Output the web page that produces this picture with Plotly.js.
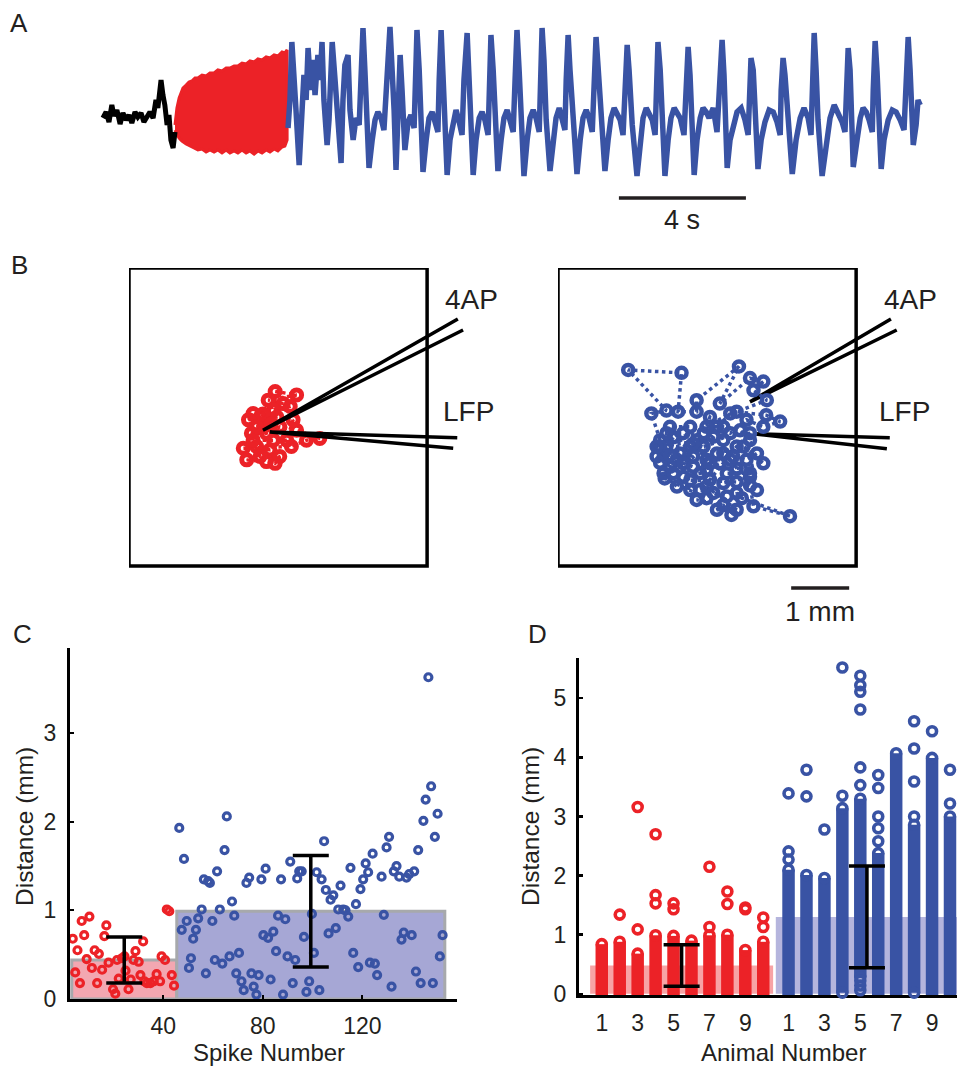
<!DOCTYPE html>
<html><head><meta charset="utf-8">
<script src="https://cdn.plot.ly/plotly-3.0.1.min.js"></script>
<style>html,body{margin:0;padding:0;background:#fff}#chart{width:957px;height:1068px}</style>
</head><body><div id="chart"></div>
<script>
// ---------------- DATA ----------------
// Panel A: LFP trace (time in s, amplitude in a.u.)
const blackT = [0.03,0.13,0.22,0.31,0.38,0.47,0.57,0.66,0.76,0.85,0.94,1.04,1.13,1.23,1.32,1.42,1.51,1.61,1.70,1.76,1.83,1.86,1.92,1.98,2.05,2.11,2.17,2.24,2.30];
const blackV = [2,8,-2,15,4,10,-4,7,0,5,-3,8,3,7,-2,4,8,2,20,12,35,40,25,15,-5,5,-20,-28,-12];
const redUpperT = [2.30,2.36,2.43,2.49,2.55,2.65,2.74,2.83,2.93,3.02,3.15,3.28,3.40,3.53,3.65,3.78,3.91,4.03,4.16,4.28,4.41,4.54,4.66,4.79,4.91,5.04,5.17,5.29,5.42,5.54,5.67,5.76,5.83];
const redUpperV = [-5,12,22,28,32,35,38,39,42,42,45,44,47,47,50,49,52,52,54,54,57,56,59,58,61,60,63,62,65,64,68,67,70];
const redLowerT = [2.30,2.36,2.43,2.52,2.65,2.77,2.90,3.02,3.15,3.28,3.40,3.53,3.65,3.78,3.91,4.03,4.16,4.28,4.41,4.54,4.66,4.79,4.91,5.04,5.17,5.29,5.42,5.54,5.67,5.76,5.83];
const redLowerV = [-10,-14,-18,-21,-24,-26,-28,-30,-29,-32,-30,-32,-30,-33,-30,-33,-31,-33,-30,-33,-31,-34,-31,-33,-30,-32,-29,-31,-27,-26,-20];
const blueT = [5.86,5.92,5.98,6.05,6.11,6.21,6.30,6.36,6.43,6.49,6.58,6.65,6.71,6.80,6.87,6.93,6.99,7.09,7.15,7.25,7.34,7.43,7.53,7.59,7.65,7.75,7.81,7.91,8.00,8.10,
 8.16,8.22,8.28,8.35,8.41,8.51,8.60,8.69,8.79,8.88,8.95,9.01,9.07,9.14,9.20,9.26,9.32,9.39,9.45,9.54,9.64,9.73,9.83,9.86,9.92,9.99,10.05,10.11,10.21,10.30,
 10.40,10.49,10.58,10.62,10.68,10.74,10.80,10.87,10.96,11.06,11.15,11.25,11.34,11.40,11.50,11.56,11.62,11.69,11.78,11.88,11.97,12.06,12.16,12.19,12.25,12.32,12.38,12.47,12.57,12.66,
 12.76,12.85,12.95,13.01,13.07,13.14,13.20,13.29,13.39,13.48,13.58,13.67,13.77,13.80,13.86,13.92,13.99,14.11,14.21,14.30,14.40,14.49,14.58,14.62,14.68,14.74,14.84,14.96,15.06,15.15,
 15.25,15.34,15.44,15.50,15.56,15.62,15.72,15.84,15.94,16.03,16.13,16.22,16.32,16.41,16.47,16.54,16.60,16.70,16.85,16.95,17.04,17.14,17.23,17.33,17.42,17.45,17.51,17.58,17.64,17.73,
 17.83,17.92,18.02,18.11,18.21,18.33,18.40,18.46,18.52,18.59,18.65,18.74,18.84,18.93,19.03,19.12,19.25,19.37,19.44,19.53,19.59,19.62,19.69,19.78,19.88,20.00,20.13,20.25,20.35,20.38,
 20.44,20.51,20.57,20.66,20.76,20.88,21.01,21.14,21.26,21.36,21.39,21.45,21.51,21.61,21.74,21.86,21.99,22.11,22.24,22.33,22.37,22.43,22.49,22.55,22.68,22.81,22.93,23.06,23.18,23.31,
 23.40,23.44,23.50,23.56,23.59,23.66,23.78,23.88,23.97,24.07,24.16,24.26,24.29,24.35,24.41,24.48,24.54,24.63,24.76,24.89,25.01,25.14,25.26,25.33,25.39,25.45,25.52,25.55,25.64,25.70,25.77];
const blueV = [-8,20,78,50,10,-45,0,45,20,72,30,60,25,65,40,78,20,-25,0,78,40,0,-43,20,55,65,10,-20,2,-5,
 40,92,50,0,-48,-20,0,8,2,-10,20,60,93,55,10,-50,0,65,30,-30,-2,5,-8,40,90,50,10,-52,-20,2,
 8,-5,-12,40,90,45,-10,-55,-20,0,10,-2,-15,40,87,42,-5,-55,-20,2,8,0,-15,40,85,50,0,-51,-20,2,
 10,0,-12,40,90,48,0,-56,-20,2,10,2,-12,40,92,60,0,-51,-15,2,12,2,-10,40,85,50,-5,-54,-20,2,
 10,2,-12,40,83,55,0,-51,-20,2,12,5,0,-15,35,75,50,-5,-56,-20,2,12,5,0,-15,35,78,50,0,-56,
 -20,2,12,8,2,-15,35,73,45,0,-55,-20,2,12,8,2,12,-12,40,80,45,0,-48,-20,-5,8,12,0,-15,30,
 62,50,0,-49,-20,-2,10,8,-2,-15,30,62,45,0,-54,-20,2,12,2,-15,40,87,50,0,-56,-20,2,15,8,-2,
 -12,30,72,50,10,-47,-20,2,12,8,0,-12,30,79,48,0,-49,-20,0,10,8,0,-10,40,83,50,0,-25,-5,20,15];
const scaleBarA = {t0: 16.28, len: 4, v: -78};

// Panel B: spike-source trajectories (mm)
const boxSize = 5.14;
const redTrajX = [2.52,2.89,2.40,2.66,2.14,2.06,2.26,2.49,2.78,2.11,2.37,2.60,2.89,3.29,3.06,2.80,1.97,2.20,2.43,2.03,2.37,2.52,2.60,2.26,2.14,2.49,2.72,2.83,2.32,2.55,2.31,2.45,2.20];
const redTrajY = [3.01,2.95,2.86,2.80,2.63,2.52,2.57,2.69,2.75,2.29,2.29,2.40,2.34,2.20,2.17,2.06,2.03,2.06,2.00,1.83,1.80,1.77,1.89,1.89,2.17,2.17,2.17,2.52,2.40,2.57,2.62,2.45,2.40];
const blueTrajX = [1.76,1.61,1.87,1.21,2.13,2.07,2.39,2.39,3.12,2.79,3.31,3.54,3.37,3.60,3.08,3.59,3.83,3.54,3.25,2.97,2.62,2.51,1.99,1.87,2.28,2.74,3.20,3.54,3.08,3.31,2.85,2.45,2.16,1.93,1.70,1.76,2.05,1.84,2.28,2.56,2.39,2.85,2.99,3.08,3.17,4.00,3.37,3.31,2.97,2.56,2.33,2.10,1.82,2.51,2.85,2.74,2.28,1.93,2.62,3.08,3.31,
  1.76,1.93,2.16,2.33,2.56,2.79,3.02,3.25,3.43,3.31,3.14,2.85,2.68,2.39,2.16,1.87,1.82,2.05,2.45,2.68,2.91,2.74,3.08,2.56,2.28,3.08,3.43,3.31,2.91,2.62,2.33,2.85,1.70,1.99,2.97,2.56];
const blueTrajY = [2.17,2.63,2.68,3.38,3.33,2.66,2.66,2.86,3.44,2.80,3.24,3.18,3.03,2.86,2.66,2.60,2.49,2.40,2.52,2.29,2.57,2.29,2.22,2.06,2.06,1.94,2.06,1.77,1.68,1.54,1.43,1.60,1.54,1.71,1.89,1.78,1.83,1.51,1.31,1.17,1.14,1.05,0.88,1.26,1.17,0.86,1.03,1.39,1.83,1.83,1.89,1.94,1.94,2.06,2.17,2.40,2.40,2.40,1.49,2.06,2.29,
  2.06,1.91,1.77,1.71,1.66,1.77,1.89,1.83,1.94,2.17,2.34,2.40,2.23,2.17,2.29,2.29,1.60,1.37,1.31,1.26,1.20,0.97,0.97,1.37,1.48,1.45,1.31,1.60,1.60,1.77,2.11,1.94,2.06,1.60,2.63,2.40];
const elecLeftX  = [5.67,2.31,5.76,null,5.66,2.43,5.59];
const elecLeftY  = [4.26,2.34,4.07,null,2.21,2.31,2.03];
const elecRightX = [5.74,3.31,5.84,null,5.72,3.36,5.67];
const elecRightY = [4.26,2.83,4.07,null,2.21,2.28,2.02];
const scaleBarB = {x0: 4.02, len: 1, y: -0.38};

// Panel C: distance vs spike number
const cRedSpike = [3.6,5.5,4.6,6.5,7.2,8.2,10.3,9.2,11.3,12.4,13.4,14.1,15.4,16.3,17.1,18.0,19.8,20.7,21.4,22.1,23.4,24.8,24.4,26.0,26.9,28.0,28.8,30.1,30.8,31.9,32.4,33.4,34.8,36.1,37.3,38.7,39.3,40.7,41.4,42.4,43.4,44.3];
const cRedDist  = [0.68,0.55,0.30,0.18,0.88,0.72,0.93,0.45,0.35,0.55,0.18,0.51,0.33,0.71,0.83,0.41,0.11,0.06,0.44,0.23,0.46,0.32,0.48,0.11,0.22,0.44,0.54,0.42,0.27,0.65,0.20,0.18,0.18,0.20,0.28,0.20,0.48,0.44,1.01,0.99,0.27,0.15];
const cBlueSpike = [46.4,47.4,48.3,49.4,50.3,51.1,52.0,53.1,54.0,55.4,56.3,57.1,58.0,58.7,59.7,60.7,61.6,62.7,63.7,64.6,65.5,66.6,67.6,68.5,69.3,70.4,71.4,72.3,73.4,74.5,75.4,76.3,77.4,78.3,79.4,80.2,81.1,82.1,83.1,84.2,85.3,86.1,87.3,88.1,89.0,89.9,91.0,92.0,93.0,93.8,94.6,95.6,96.5,97.5,98.6,99.7,100.5,101.6,102.7,103.6,104.6,105.3,106.4,107.2,108.3,109.3,110.3,111.2,112.3,113.2,114.3,115.2,116.3,117.4,118.3,119.2,120.3,121.3,122.3,123.0,124.1,125.0,125.9,127.7,128.6,129.7,130.7,131.7,132.6,133.7,134.8,135.7,136.6,137.7,138.8,139.8,140.8,141.5,142.4,143.4,144.5,145.4,146.5,147.6,148.3,149.1,150.2,151.1,152.2];
const cBlueDist  = [1.93,0.78,1.58,0.88,0.35,0.46,0.68,0.78,0.91,1.01,1.35,0.29,1.33,1.31,0.88,0.44,1.44,1.01,0.40,1.68,2.06,0.48,1.10,0.94,0.29,0.52,0.20,0.10,1.31,1.37,0.29,0.14,0.05,0.27,1.35,0.72,1.47,0.69,0.22,0.76,0.54,0.94,1.35,0.05,0.90,0.48,1.55,0.18,0.44,1.36,1.44,1.44,0.70,0.08,0.20,0.96,0.52,1.43,0.10,1.35,1.78,1.23,0.74,1.12,1.17,0.80,1.01,1.28,1.01,1.00,0.93,1.48,0.52,1.07,0.36,1.24,1.35,1.53,1.43,0.41,1.64,0.40,0.27,1.38,0.95,1.71,1.83,0.14,1.44,1.50,1.38,0.67,0.75,1.37,1.41,0.72,1.44,0.31,1.68,0.18,2.01,2.25,3.63,2.40,0.18,1.83,2.09,0.48,0.72];
const cBarCenter = [24.3, 99.25];
const cBarWidth  = [42.2, 107.7];
const cMean = [0.44, 0.99];
const cSD   = [0.26, 0.63];
const cTicksX = [40, 80, 120];
const cTicksY = [0, 1, 2, 3];

// Panel D: distance per animal
const redAnimalPos  = [1,2,3,4,5,6,7,8,9,10];
const blueAnimalPos = [11.41,12.41,13.41,14.41,15.41,16.41,17.41,18.41,19.41,20.41];
const redLo = [-0.04,-0.04,-0.06,-0.04,-0.04,-0.04,-0.04,-0.04,-0.03,-0.05];
const redHi = [0.84,0.88,0.68,0.99,0.98,0.90,0.99,1.00,0.74,0.88];
const redOut = [[],[1.34],[1.09,3.16],[1.53,1.67,2.70],[1.43,1.53],[],[1.13,2.15],[1.52,1.73],[1.43,1.46],[1.13,1.29]];
const blueLo = [-0.04,-0.07,-0.07,0.02,0.28,-0.05,-0.09,0.02,-0.04,-0.03];
const blueHi = [2.10,2.01,1.96,3.14,3.30,2.38,4.07,2.86,3.99,3.00];
const blueOut = [[2.27,2.41,3.39],[3.34,3.79],[2.78],[3.35,5.52],[0.06,0.14,0.22,3.53,3.83,4.81,5.11,5.22,5.38],[2.58,2.80,3.00,3.48,3.70],[],[3.00,3.59,4.15,4.61],[4.44],[3.22,3.79]];
const dBarCenter = [5.45, 15.78];
const dBarWidth  = [10.2, 10.16];
const dMean = [0.48, 1.30];
const dSD   = [0.35, 0.86];
const dTickVals = [1,3,5,7,9,11.41,13.41,15.41,17.41,19.41];
const dTickText = ['1','3','5','7','9','1','3','5','7','9'];
const dTicksY = [0,1,2,3,4,5];

// ---------------- STYLE ----------------
const RED = '#ec2227', BLUE = '#3953a4', TXT = '#231f20';
const FONT = 'Liberation Sans, Arial, Helvetica, sans-serif';
const PW = 957, PH = 1068;
const dxp = (a,b) => [a/PW, b/PW];
const dyp = (top,bottom) => [1-bottom/PH, 1-top/PH];

function columns(pos, lo, hi){const x=[],y=[];pos.forEach((p,i)=>{x.push(p,p,null);y.push(lo[i],hi[i],null);});return {x,y};}
function outliers(pos, out){const x=[],y=[];pos.forEach((p,i)=>out[i].forEach(v=>{x.push(p);y.push(v);}));return {x,y};}

const traces = [];
// A
traces.push({type:'scatter',mode:'lines',x:redUpperT.concat(redLowerT.slice().reverse()),y:redUpperV.concat(redLowerV.slice().reverse()),
  fill:'toself',fillcolor:RED,line:{color:RED,width:3},xaxis:'x',yaxis:'y'});
traces.push({type:'scatter',mode:'lines',x:blackT,y:blackV,line:{color:'#000',width:5},xaxis:'x',yaxis:'y'});
traces.push({type:'scatter',mode:'lines',x:blueT,y:blueV,line:{color:BLUE,width:5.5},xaxis:'x',yaxis:'y'});
traces.push({type:'scatter',mode:'lines',x:[scaleBarA.t0,scaleBarA.t0+scaleBarA.len],y:[scaleBarA.v,scaleBarA.v],line:{color:TXT,width:3.5},xaxis:'x',yaxis:'y'});

// B left
traces.push({type:'scatter',mode:'lines+markers',x:redTrajX,y:redTrajY,xaxis:'x2',yaxis:'y2',cliponaxis:false,
  line:{color:RED,width:3.5,dash:'dot'},marker:{symbol:'circle-open',size:10,color:RED,line:{width:5,color:RED}}});
traces.push({type:'scatter',mode:'lines',x:elecLeftX,y:elecLeftY,xaxis:'x2',yaxis:'y2',line:{color:'#000',width:3.5},cliponaxis:false});
// B right
traces.push({type:'scatter',mode:'lines',x:elecRightX,y:elecRightY,xaxis:'x3',yaxis:'y3',line:{color:'#000',width:3.5},cliponaxis:false});
traces.push({type:'scatter',mode:'lines+markers',x:blueTrajX,y:blueTrajY,xaxis:'x3',yaxis:'y3',cliponaxis:false,
  line:{color:BLUE,width:3.5,dash:'dot'},marker:{symbol:'circle-open',size:10,color:BLUE,line:{width:4.5,color:BLUE}}});
traces.push({type:'scatter',mode:'lines',x:[scaleBarB.x0,scaleBarB.x0+scaleBarB.len],y:[scaleBarB.y,scaleBarB.y],xaxis:'x3',yaxis:'y3',line:{color:TXT,width:3.5},cliponaxis:false});

// C
traces.push({type:'bar',x:cBarCenter,y:cMean,width:cBarWidth,xaxis:'x4',yaxis:'y4',
  marker:{color:['#f3a7b1','#a6a7d5'],line:{color:'#a7a9ac',width:3}}});
traces.push({type:'scatter',mode:'markers',x:cRedSpike,y:cRedDist,xaxis:'x4',yaxis:'y4',cliponaxis:false,
  marker:{symbol:'circle-open',size:7,color:RED,line:{width:3.2,color:RED}}});
traces.push({type:'scatter',mode:'markers',x:cBlueSpike,y:cBlueDist,xaxis:'x4',yaxis:'y4',cliponaxis:false,
  marker:{symbol:'circle-open',size:7,color:BLUE,line:{width:3.2,color:BLUE}}});
traces.push({type:'scatter',mode:'markers',x:cBarCenter,y:cMean,xaxis:'x4',yaxis:'y4',marker:{size:1,color:'rgba(0,0,0,0)'},
  error_y:{type:'data',array:cSD,color:'#000',thickness:3.5,width:18}});

// D
traces.push({type:'bar',x:dBarCenter,y:dMean,width:dBarWidth,xaxis:'x5',yaxis:'y5',
  marker:{color:['rgba(237,35,40,0.42)','rgba(90,90,180,0.45)'],line:{width:0}}});
const rc = columns(redAnimalPos, redLo, redHi), bc = columns(blueAnimalPos, blueLo, blueHi);
const ro = outliers(redAnimalPos, redOut), bo = outliers(blueAnimalPos, blueOut);
[[rc,RED],[bc,BLUE]].forEach(([c,col])=>traces.push({type:'scatter',mode:'lines+markers',x:c.x,y:c.y,xaxis:'x5',yaxis:'y5',cliponaxis:false,
  line:{color:col,width:12.5},marker:{symbol:'circle-open',size:9,color:col,line:{width:3.6,color:col}}}));
[[ro,RED],[bo,BLUE]].forEach(([c,col])=>traces.push({type:'scatter',mode:'markers',x:c.x,y:c.y,xaxis:'x5',yaxis:'y5',cliponaxis:false,
  marker:{symbol:'circle-open',size:9,color:col,line:{width:3.6,color:col}}}));
traces.push({type:'scatter',mode:'markers',x:dBarCenter,y:dMean,xaxis:'x5',yaxis:'y5',marker:{size:1,color:'rgba(0,0,0,0)'},
  error_y:{type:'data',array:dSD,color:'#000',thickness:3.5,width:18}});

const tickFont = {family:FONT,size:23,color:TXT};
const hidden = {visible:false,fixedrange:true};
const layout = {
  width:PW,height:PH,margin:{l:0,r:0,t:0,b:0},paper_bgcolor:'#fff',plot_bgcolor:'rgba(0,0,0,0)',
  showlegend:false,hovermode:false,font:{family:FONT,color:TXT},
  xaxis:Object.assign({domain:dxp(95,925),range:[-0.22,25.92],anchor:'y'},hidden),
  yaxis:Object.assign({domain:dyp(20,230),range:[-110,100],anchor:'x'},hidden),
  xaxis2:Object.assign({domain:dxp(129,500),range:[0,6.397],anchor:'y2'},hidden),
  yaxis2:Object.assign({domain:dyp(268,625),range:[-1.017,5.138],anchor:'x2'},hidden),
  xaxis3:Object.assign({domain:dxp(558,940),range:[0,6.586],anchor:'y3'},hidden),
  yaxis3:Object.assign({domain:dyp(268,625),range:[-1.017,5.138],anchor:'x3'},hidden),
  xaxis4:{domain:dxp(70,457),range:[2.5,158],anchor:'y4',showline:true,linewidth:3,linecolor:'#000',showgrid:false,zeroline:false,
    ticks:'inside',ticklen:4,tickwidth:2,tickcolor:'#000',tickvals:cTicksX,tickfont:tickFont,ticklabelstandoff:4},
  yaxis4:{domain:dyp(648,999),range:[0,3.96],anchor:'x4',showline:true,linewidth:3,linecolor:'#000',showgrid:false,zeroline:false,
    ticks:'inside',ticklen:4,tickwidth:2,tickcolor:'#000',tickvals:cTicksY,tickfont:tickFont,ticklabelstandoff:6},
  xaxis5:{domain:dxp(579,957),range:[-0.27,20.8],anchor:'y5',showline:true,linewidth:3,linecolor:'#000',showgrid:false,zeroline:false,
    ticks:'',tickvals:dTickVals,ticktext:dTickText,tickfont:tickFont,ticklabelstandoff:5,layer:'below traces'},
  yaxis5:{domain:dyp(658,995),range:[-0.02,5.68],anchor:'x5',showline:true,linewidth:3,linecolor:'#000',showgrid:false,zeroline:false,
    ticks:'inside',ticklen:4,tickwidth:2.5,tickcolor:'#000',tickvals:dTicksY,tickfont:tickFont,ticklabelstandoff:5},
  shapes:[
    {type:'rect',xref:'x2',yref:'y2',x0:0,y0:0,x1:boxSize,y1:boxSize,line:{color:'#000',width:3.5}},
    {type:'rect',xref:'x3',yref:'y3',x0:0,y0:0,x1:boxSize,y1:boxSize,line:{color:'#000',width:3.5}}
  ],
  annotations:[
    {text:'A',xref:'paper',yref:'paper',x:19/PW,y:1-23/PH},
    {text:'B',xref:'paper',yref:'paper',x:19/PW,y:1-265/PH},
    {text:'C',xref:'paper',yref:'paper',x:22/PW,y:1-634/PH},
    {text:'D',xref:'paper',yref:'paper',x:537/PW,y:1-634/PH},
    {text:'4 s',xref:'x',yref:'y',x:scaleBarA.t0+scaleBarA.len/2,y:-100,font:{size:27}},
    {text:'1 mm',xref:'x3',yref:'y3',x:scaleBarB.x0+scaleBarB.len/2,y:-0.79,font:{size:28}},
    {text:'4AP',xref:'x2',yref:'y2',x:5.91,y:4.60,font:{size:28}},
    {text:'LFP',xref:'x2',yref:'y2',x:5.86,y:2.67,font:{size:28}},
    {text:'4AP',xref:'x3',yref:'y3',x:6.07,y:4.60,font:{size:28}},
    {text:'LFP',xref:'x3',yref:'y3',x:5.97,y:2.67,font:{size:28}},
    {text:'Distance (mm)',xref:'paper',yref:'paper',x:24/PW,y:1-827/PH,textangle:-90,font:{size:24.5}},
    {text:'Spike Number',xref:'paper',yref:'paper',x:269/PW,y:0,yanchor:'bottom',font:{size:24}},
    {text:'Distance (mm)',xref:'paper',yref:'paper',x:530/PW,y:1-827/PH,textangle:-90,font:{size:24.5}},
    {text:'Animal Number',xref:'paper',yref:'paper',x:783/PW,y:0,yanchor:'bottom',font:{size:24}}
  ].map(a=>Object.assign({showarrow:false,xanchor:'center',yanchor:'middle'},a,{font:Object.assign({family:FONT,size:26,color:TXT},a.font||{})}))
};
Plotly.newPlot('chart',traces,layout,{displayModeBar:false,staticPlot:true});
</script></body></html>
